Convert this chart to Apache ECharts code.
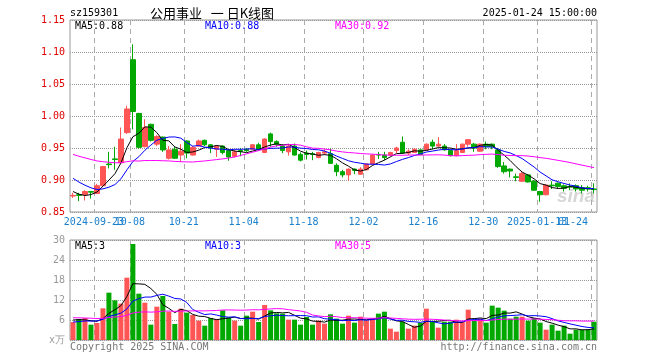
<!DOCTYPE html>
<html><head><meta charset="utf-8">
<script src="https://cdn.jsdelivr.net/npm/echarts@6/dist/echarts.min.js"></script>
<style>html,body{margin:0;padding:0;background:#fff}#c{width:660px;height:360px}</style>
</head><body><div id="c"></div>
<script>
// ---------- data ----------
const dates = [
'2024-09-13','2024-09-18','2024-09-19','2024-09-20','2024-09-23','2024-09-24','2024-09-25','2024-09-26','2024-09-27','2024-09-30',
'2024-10-08','2024-10-09','2024-10-10','2024-10-11','2024-10-14','2024-10-15','2024-10-16','2024-10-17','2024-10-18','2024-10-21',
'2024-10-22','2024-10-23','2024-10-24','2024-10-25','2024-10-28','2024-10-29','2024-10-30','2024-10-31','2024-11-01','2024-11-04',
'2024-11-05','2024-11-06','2024-11-07','2024-11-08','2024-11-11','2024-11-12','2024-11-13','2024-11-14','2024-11-15','2024-11-18',
'2024-11-19','2024-11-20','2024-11-21','2024-11-22','2024-11-25','2024-11-26','2024-11-27','2024-11-28','2024-11-29','2024-12-02',
'2024-12-03','2024-12-04','2024-12-05','2024-12-06','2024-12-09','2024-12-10','2024-12-11','2024-12-12','2024-12-13','2024-12-16',
'2024-12-17','2024-12-18','2024-12-19','2024-12-20','2024-12-23','2024-12-24','2024-12-25','2024-12-26','2024-12-27','2024-12-30',
'2024-12-31','2025-01-02','2025-01-03','2025-01-06','2025-01-07','2025-01-08','2025-01-09','2025-01-10','2025-01-13','2025-01-14',
'2025-01-15','2025-01-16','2025-01-17','2025-01-20','2025-01-21','2025-01-22','2025-01-23','2025-01-24'];

const opens = [
0.875,0.877,0.877,0.882,0.879,0.891,0.925,0.933,0.927,0.974,
1.088,1.004,0.952,0.987,0.956,0.967,0.934,0.948,0.939,0.961,
0.939,0.953,0.962,0.955,0.948,0.953,0.946,0.937,0.946,0.948,
0.948,0.955,0.943,0.972,0.960,0.953,0.944,0.953,0.940,0.942,
0.941,0.935,0.942,0.941,0.923,0.913,0.908,0.917,0.909,0.916,
0.925,0.940,0.939,0.939,0.946,0.959,0.942,0.943,0.947,0.947,
0.959,0.953,0.953,0.946,0.938,0.943,0.956,0.956,0.945,0.956,
0.956,0.947,0.922,0.917,0.905,0.898,0.908,0.898,0.882,0.877,
0.892,0.895,0.891,0.890,0.891,0.888,0.888,0.886];
const closes = [
0.876,0.876,0.882,0.881,0.891,0.921,0.924,0.932,0.964,1.011,
1.007,0.951,0.982,0.962,0.968,0.947,0.947,0.934,0.945,0.942,
0.951,0.961,0.955,0.950,0.953,0.943,0.936,0.944,0.945,0.946,
0.955,0.948,0.964,0.960,0.956,0.946,0.953,0.939,0.931,0.940,
0.940,0.943,0.944,0.926,0.913,0.908,0.917,0.915,0.917,0.925,
0.939,0.939,0.935,0.943,0.950,0.942,0.945,0.948,0.940,0.956,
0.953,0.956,0.947,0.938,0.946,0.956,0.963,0.950,0.956,0.952,
0.952,0.921,0.913,0.914,0.904,0.910,0.897,0.884,0.877,0.892,
0.891,0.890,0.887,0.889,0.886,0.884,0.886,0.885];
const lows = [
0.872,0.867,0.868,0.871,0.878,0.889,0.918,0.916,0.925,0.972,
0.979,0.949,0.951,0.960,0.953,0.944,0.932,0.933,0.928,0.934,
0.938,0.952,0.953,0.942,0.936,0.940,0.930,0.935,0.937,0.944,
0.947,0.946,0.942,0.952,0.952,0.942,0.938,0.938,0.929,0.932,
0.931,0.934,0.939,0.925,0.906,0.904,0.899,0.909,0.908,0.915,
0.924,0.933,0.931,0.937,0.942,0.941,0.939,0.942,0.939,0.946,
0.948,0.952,0.946,0.937,0.937,0.942,0.952,0.944,0.944,0.948,
0.948,0.919,0.910,0.904,0.898,0.897,0.896,0.883,0.866,0.876,
0.886,0.887,0.882,0.884,0.882,0.879,0.882,0.879];
const highs = [
0.880,0.880,0.884,0.883,0.894,0.922,0.944,0.952,0.982,1.016,
1.112,1.005,0.995,0.988,0.970,0.968,0.953,0.952,0.956,0.962,
0.953,0.963,0.963,0.956,0.954,0.954,0.947,0.947,0.950,0.950,
0.956,0.958,0.965,0.974,0.962,0.956,0.956,0.957,0.943,0.946,
0.944,0.944,0.948,0.949,0.926,0.916,0.918,0.918,0.920,0.926,
0.940,0.944,0.944,0.944,0.952,0.968,0.948,0.950,0.948,0.957,
0.963,0.967,0.956,0.947,0.956,0.957,0.964,0.958,0.957,0.960,
0.957,0.950,0.928,0.918,0.910,0.913,0.909,0.900,0.883,0.893,
0.898,0.896,0.893,0.895,0.893,0.892,0.891,0.895];
const volumes = [
5.4,6.3,6.6,4.6,5.1,9.5,14.2,11.9,10.9,18.7,
28.8,13.9,11.2,4.6,10.0,13.2,8.5,4.8,9.4,8.2,
7.5,5.8,4.3,6.6,6.3,8.9,6.8,5.8,4.3,7.3,
8.5,5.4,10.5,8.9,8.0,7.9,6.1,6.1,4.6,6.9,
4.6,5.8,4.9,7.7,6.4,4.9,7.3,5.2,7.0,5.8,
6.4,7.9,8.5,3.4,2.5,5.5,3.4,4.3,5.2,9.4,
5.5,3.7,5.5,5.5,6.1,5.5,9.1,5.9,6.4,5.2,
10.3,9.7,8.8,6.4,7.0,7.0,5.8,6.6,5.2,3.1,
4.6,2.8,4.3,1.9,3.1,3.1,3.1,5.5];
// sessions before the visible window (estimated from where the MA lines start)
const prevCloses = [0.962,0.958,0.955,0.960,0.957,0.953,0.956,0.960,0.963,0.966,0.962,0.958,0.961,0.965,0.960,
0.957,0.955,0.958,0.953,0.955,0.935,0.930,0.922,0.918,0.911,0.897,0.892,0.874,0.871];
const prevVolumes = [7.0,8.2,6.5,7.8,7.1,6.9,8.0,7.4,6.8,7.6,7.2,8.1,6.9,7.5,7.3,
7.0,7.8,7.2,6.9,7.0,5.2,4.6,4.9,4.5,4.8,5.8,6.9,5.9,6.0];

const tickDates  = ['2024-09-23','2024-10-08','2024-10-21','2024-11-04','2024-11-18','2024-12-02','2024-12-16','2024-12-30','2025-01-13','2025-01-24'];
const tickLabels = ['2024-09-23','10-08','10-21','11-04','11-18','12-02','12-16','12-30','2025-01-13','01-24'];
const priceLegend = ['MA5:0.88','MA10:0.88','MA30:0.92'];
const volLegend = ['MA5:3','MA10:3','MA30:5'];
const maPeriods = [5,10,30];

// ---------- build ----------
const MONO = '"DejaVu Sans Mono", monospace';
const UP = '#ff5555', DOWN = '#00a800';
const maColors = ['#000000','#0000ff','#ff00ff'];

function movingAvg(prev, vals, n){
  const all = prev.concat(vals), off = prev.length, out = [];
  for (let i = off; i < all.length; i++){
    let s = 0; for (let k = i-n+1; k <= i; k++) s += all[k];
    out.push(+(s/n).toFixed(4));
  }
  return out;
}
const tickIdx = tickDates.map(d => dates.indexOf(d));
const labelMap = {}; tickIdx.forEach((ix,k)=>{ labelMap[ix] = tickLabels[k]; });
// labels that collide with a neighbour go on a second (overlaid) category axis
const setA = new Set(tickIdx.filter((ix,k)=> k!==1 && k!==8));
const setB = new Set([tickIdx[1], tickIdx[8]]);

function xAx(gi, showLabel, set, alignMax){
  const lab = {show:showLabel, interval:(i)=>set.has(i), formatter:(v,i)=>labelMap[i] || '',
      hideOverlap:false, showMinLabel:true, showMaxLabel:true,
      color:'#1a7fcc', fontFamily:MONO, fontSize:10, margin:5, padding:[0,6,0,0]};
  if (alignMax) lab.alignMaxLabel = 'right';
  return {
    type:'category', gridIndex:gi, data:dates, boundaryGap:true, position:'bottom', offset:0,
    axisLine:{show:false}, axisTick:{show:false}, splitLine:{show:false}, axisLabel:lab
  };
}

// dashed date grid lines, drawn on the band edges of each category axis
function dateLines(xi, yi, yLo, yHi){
  return {
    type:'custom', xAxisIndex:xi, yAxisIndex:yi,
    data: tickIdx.map(i=>[i, yHi]),
    renderItem:(params, api)=>{
      const i = api.value(0);
      const top = api.coord([i, yHi]), bot = api.coord([i, yLo]);
      const bw = api.size([1, 0])[0];
      const x = Math.round(top[0] - bw/2) + 0.5;
      return {type:'line', shape:{x1:x, y1:top[1], x2:x, y2:bot[1]},
        style:{stroke:'#aaaaaa', lineWidth:1, lineDash:[5,4]}};
    }
  };
}

const series = [dateLines(0,0,0.85,1.15), dateLines(2,1,0,30)];
series.push({
  type:'candlestick', xAxisIndex:0, yAxisIndex:0, data:dates.map((d,i)=>[opens[i], closes[i], lows[i], highs[i]]), barWidth:5,
  itemStyle:{color:UP, color0:DOWN, borderColor:UP, borderColor0:DOWN, borderWidth:1}
});
maPeriods.forEach((n,k)=>{
  series.push({type:'line', xAxisIndex:0, yAxisIndex:0, data:movingAvg(prevCloses, closes, n),
    symbol:'none', lineStyle:{width:1, color:maColors[k]}, z:3});
});
series.push({type:'bar', xAxisIndex:2, yAxisIndex:1, barWidth:5,
  data:volumes.map((v,i)=>({value:v, itemStyle:{color: closes[i] >= opens[i] ? UP : DOWN}}))});
maPeriods.forEach((n,k)=>{
  series.push({type:'line', xAxisIndex:2, yAxisIndex:1, data:movingAvg(prevVolumes, volumes, n),
    symbol:'none', lineStyle:{width:1, color:maColors[k]}, z:3});
});

function txt(x, y, text, fill, font, align){
  return {type:'text', x:x, y:y, z:10, style:{text:text, fill:fill, font:font,
    align:align||'left', verticalAlign:'middle', textAlign:align||'left', textVerticalAlign:'middle'}};
}
const monoFont = '10px "DejaVu Sans Mono", monospace';
const graphics = [
  txt(70, 13, 'sz159301', '#000', monoFont),
  txt(150, 13, '公用事业   一 日K线图', '#000', '13px "Noto Sans CJK SC"'),
  txt(597, 13, '2025-01-24 15:00:00', '#000', monoFont, 'right'),
  txt(75, 26, priceLegend[0], maColors[0], monoFont),
  txt(205, 26, priceLegend[1], maColors[1], monoFont),
  txt(335, 26, priceLegend[2], maColors[2], monoFont),
  txt(75, 246, volLegend[0], maColors[0], monoFont),
  txt(205, 246, volLegend[1], maColors[1], monoFont),
  txt(335, 246, volLegend[2], maColors[2], monoFont),
  txt(70, 347, 'Copyright 2025 SINA.COM', '#777', monoFont),
  txt(597, 347, 'http://finance.sina.com.cn', '#777', monoFont, 'right'),
  {type:'text', x:595, y:197, z:0, style:{text:'sina', fill:'#cccccc', opacity:0.8,
    font:'italic bold 19px "Liberation Sans"', align:'right', verticalAlign:'middle', textAlign:'right', textVerticalAlign:'middle'}}
];

const chart = echarts.init(document.getElementById('c'), null, {renderer:'canvas'});
chart.setOption({
  animation:false,
  backgroundColor:'#ffffff',
  grid:[
    {left:70, top:20, width:527, height:192, show:true, borderColor:'#999', borderWidth:1, containLabel:false},
    {left:70, top:240, width:527, height:100, show:true, borderColor:'#999', borderWidth:1, containLabel:false}
  ],
  xAxis:[xAx(0,true,setA,true), xAx(0,true,setB,false), xAx(1,false,setA,false)],
  yAxis:[
    {type:'value', gridIndex:0, min:0.85, max:1.15, interval:0.05, scale:false,
     axisLine:{show:false}, axisTick:{show:false},
     splitLine:{show:true, lineStyle:{color:'#999', type:[1,1]}},
     axisLabel:{color:'#e00000', fontFamily:MONO, fontSize:10, margin:5, formatter:v=>v.toFixed(2)}},
    {type:'value', gridIndex:1, min:0, max:30, interval:6,
     axisLine:{show:false}, axisTick:{show:false},
     splitLine:{show:true, lineStyle:{color:'#999', type:[1,1]}},
     axisLabel:{color:'#999', fontFamily:MONO, fontSize:10, margin:5, formatter:v=> v===0 ? 'x万' : String(v)}}
  ],
  graphic:graphics,
  series:series
});
</script>
</body></html>
